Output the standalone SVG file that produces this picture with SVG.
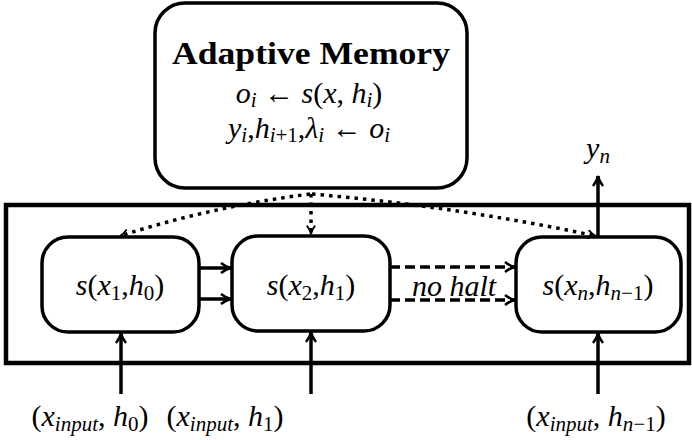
<svg xmlns="http://www.w3.org/2000/svg" width="692" height="440" viewBox="0 0 692 440">
<style>
.box{fill:#fff;stroke:#000;stroke-width:3.5}
.outer{fill:none;stroke:#000;stroke-width:4.5}
.m{font-family:"Liberation Serif","DejaVu Serif",serif;font-size:30px;fill:#000}
.i{font-style:italic}
.s{font-size:21px}
.b{font-weight:bold}
.solid{fill:none;stroke:#000;stroke-width:3.5}
.dash{fill:none;stroke:#000;stroke-width:3.5;stroke-dasharray:10 5}
.dot{fill:none;stroke:#000;stroke-width:3.5;stroke-dasharray:3.5 5}
</style>
<defs>
<marker id="ah" viewBox="0 0 12 12" refX="11" refY="6" markerWidth="12" markerHeight="12" markerUnits="userSpaceOnUse" orient="auto">
<path d="M1,1 Q6,5 11,6 Q6,7 1,11" fill="none" stroke="#000" stroke-width="2.5"/>
</marker>
<marker id="ahs" viewBox="0 0 12 12" refX="11" refY="6" markerWidth="10" markerHeight="10" markerUnits="userSpaceOnUse" orient="auto">
<path d="M1,1 Q6,5 11,6 Q6,7 1,11" fill="none" stroke="#000" stroke-width="2.2"/>
</marker>
</defs>
<g id="outer"><rect class="outer" x="6" y="205" width="683" height="158"/></g>
<g id="memory">
<rect class="box" x="155" y="3" width="312" height="185" rx="30"/>
<text class="m b" x="311" y="64" text-anchor="middle" style="font-size:31px" textLength="278" lengthAdjust="spacingAndGlyphs">Adaptive Memory</text>
<text class="m" x="309" y="103" text-anchor="middle"><tspan class="i">o</tspan><tspan class="s i" dy="4">i</tspan><tspan dy="-4"> ← </tspan><tspan class="i">s</tspan>(<tspan class="i">x</tspan>, <tspan class="i">h</tspan><tspan class="s i" dy="4">i</tspan><tspan dy="-4">)</tspan></text>
<text class="m" x="309" y="138" text-anchor="middle"><tspan class="i">y</tspan><tspan class="s i" dy="4">i</tspan><tspan dy="-4">,</tspan><tspan class="i">h</tspan><tspan class="s" dy="4"><tspan class="i">i</tspan>+1</tspan><tspan dy="-4">,</tspan><tspan class="i">λ</tspan><tspan class="s i" dy="4">i</tspan><tspan dy="-4"> ← </tspan><tspan class="i">o</tspan><tspan class="s i" dy="4">i</tspan></text>
</g>
<g id="n1">
<rect class="box" x="42" y="237" width="157" height="95" rx="26"/>
<text class="m" x="120" y="295" text-anchor="middle"><tspan class="i">s</tspan>(<tspan class="i">x</tspan><tspan class="s" dy="5">1</tspan><tspan dy="-5">,</tspan><tspan class="i">h</tspan><tspan class="s" dy="5">0</tspan><tspan dy="-5">)</tspan></text>
</g>
<g id="n2">
<rect class="box" x="232" y="236" width="158" height="95" rx="26"/>
<text class="m" x="311" y="295" text-anchor="middle"><tspan class="i">s</tspan>(<tspan class="i">x</tspan><tspan class="s" dy="5">2</tspan><tspan dy="-5">,</tspan><tspan class="i">h</tspan><tspan class="s" dy="5">1</tspan><tspan dy="-5">)</tspan></text>
</g>
<g id="n3">
<rect class="box" x="516" y="237" width="165" height="95" rx="26"/>
<text class="m" x="598" y="295" text-anchor="middle"><tspan class="i">s</tspan>(<tspan class="i">x</tspan><tspan class="s i" dy="5">n</tspan><tspan dy="-5">,</tspan><tspan class="i">h</tspan><tspan class="s" dy="5"><tspan class="i">n</tspan>−1</tspan><tspan dy="-5">)</tspan></text>
</g>
<g id="connectors">
<path class="solid" d="M199,268 H231" marker-end="url(#ah)"/>
<path class="solid" d="M199,299 H231" marker-end="url(#ah)"/>
<path class="dash" d="M390,267 H515" marker-end="url(#ah)"/>
<path class="dash" d="M390,300 H515" marker-end="url(#ah)"/>
<text class="m i" x="454" y="296" text-anchor="middle">no halt</text>
<path class="dot" d="M310,194 Q210,207 120,236" marker-end="url(#ahs)"/>
<path class="dot" d="M311,194 V234" marker-end="url(#ahs)"/>
<path class="dot" d="M312,194 Q460,207 596,236" marker-end="url(#ahs)"/>
<path class="solid" d="M598,237 V176" marker-end="url(#ah)"/>
<text class="m" x="598" y="158" text-anchor="middle"><tspan class="i">y</tspan><tspan class="s i" dy="5">n</tspan></text>
<path class="solid" d="M121,394 V333" marker-end="url(#ah)"/>
<path class="solid" d="M311,394 V332" marker-end="url(#ah)"/>
<path class="solid" d="M598,394 V333" marker-end="url(#ah)"/>
</g>
<g id="labels">
<text class="m" x="90" y="426" text-anchor="middle">(<tspan class="i">x</tspan><tspan class="s i" dy="5">input</tspan><tspan dy="-5">, </tspan><tspan class="i">h</tspan><tspan class="s" dy="5">0</tspan><tspan dy="-5">)</tspan></text>
<text class="m" x="225" y="426" text-anchor="middle">(<tspan class="i">x</tspan><tspan class="s i" dy="5">input</tspan><tspan dy="-5">, </tspan><tspan class="i">h</tspan><tspan class="s" dy="5">1</tspan><tspan dy="-5">)</tspan></text>
<text class="m" x="596" y="426" text-anchor="middle">(<tspan class="i">x</tspan><tspan class="s i" dy="5">input</tspan><tspan dy="-5">, </tspan><tspan class="i">h</tspan><tspan class="s" dy="5"><tspan class="i">n</tspan>−1</tspan><tspan dy="-5">)</tspan></text>
</g>
</svg>
